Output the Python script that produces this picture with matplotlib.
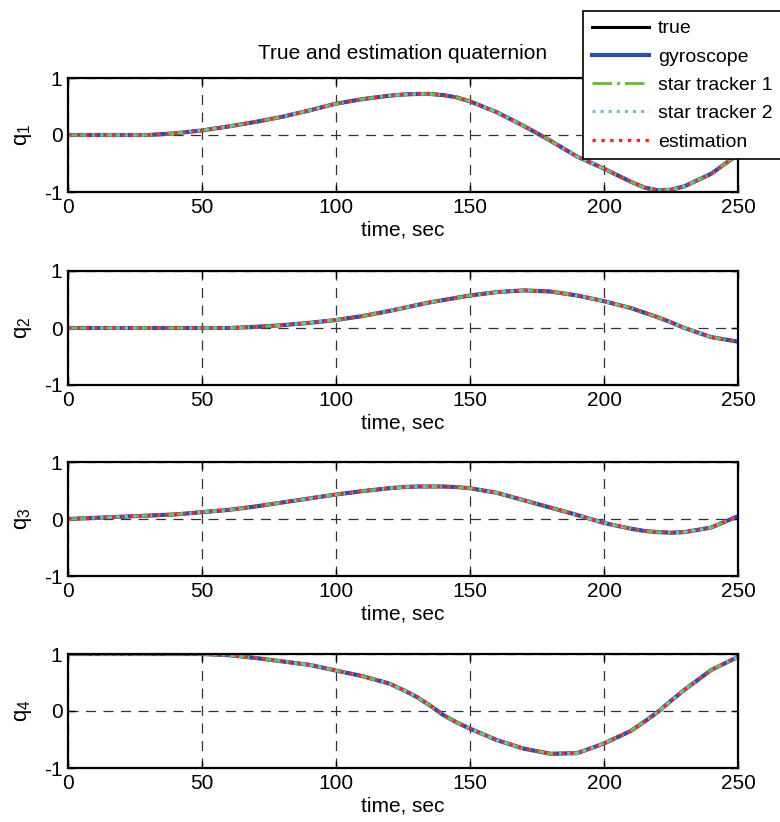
import matplotlib
matplotlib.use("Agg")
import matplotlib.pyplot as plt
import numpy as np

plt.rcParams['font.family'] = ['Liberation Sans', 'DejaVu Sans']
plt.rcParams['mathtext.fontset'] = 'custom'
plt.rcParams['mathtext.rm'] = 'Liberation Sans'
plt.rcParams['axes.unicode_minus'] = False

# time axis (sec) and quaternion components
t = [0, 10, 20, 30, 40, 50, 60, 70, 80, 90, 100, 110, 120, 125, 130, 135, 140, 145,
     150, 160, 170, 180, 190, 200, 210, 215, 220, 225, 230, 240, 250]

q1 = [0, 0, 0, 0, 0.03, 0.08, 0.15, 0.23, 0.32, 0.43, 0.55, 0.63, 0.69, 0.71, 0.72, 0.72, 0.70, 0.66,
      0.59, 0.40, 0.16, -0.10, -0.38, -0.59, -0.82, -0.92, -0.97, -0.96, -0.90, -0.68, -0.34]
q2 = [0, 0, 0, 0, 0, 0, 0, 0.02, 0.05, 0.09, 0.14, 0.21, 0.30, 0.35, 0.40, 0.45, 0.49, 0.53,
      0.57, 0.63, 0.66, 0.64, 0.57, 0.47, 0.35, 0.27, 0.19, 0.10, 0.0, -0.16, -0.24]
q3 = [0, 0.02, 0.04, 0.06, 0.08, 0.12, 0.16, 0.22, 0.29, 0.36, 0.43, 0.49, 0.54, 0.56, 0.57, 0.57, 0.57, 0.56,
      0.54, 0.46, 0.33, 0.20, 0.07, -0.07, -0.17, -0.21, -0.23, -0.24, -0.23, -0.15, 0.05]
q4 = [1, 1, 1, 1, 1, 1, 0.98, 0.93, 0.87, 0.81, 0.71, 0.61, 0.48, 0.37, 0.25, 0.10, -0.07, -0.20,
      -0.31, -0.51, -0.66, -0.75, -0.74, -0.57, -0.35, -0.19, -0.02, 0.18, 0.37, 0.72, 0.95]

quats = [q1, q2, q3, q4]
ylabels = ['q_1', 'q_2', 'q_3', 'q_4']
xticks = [0, 50, 100, 150, 200, 250]
yticks = [-1, 0, 1]

series = [
    ('true', dict(color='black', lw=2.2, ls='-')),
    ('gyroscope', dict(color='#2f4fa6', lw=3.0, ls='-')),
    ('star tracker 1', dict(color='#6cbf45', lw=2.2, ls='-.')),
    ('star tracker 2', dict(color='#5bc6d8', lw=2.2, ls=':')),
    ('estimation', dict(color='#ff2222', lw=2.4, ls=':')),
]

W, H = 780, 822
fig = plt.figure(figsize=(W / 100, H / 100), dpi=100)

tops = [78, 271, 462, 654]
ax_h = 114
fs = 15

axes = []
for i, (q, lab) in enumerate(zip(quats, ylabels)):
    ax = fig.add_axes([68 / W, 1 - (tops[i] + ax_h) / H, 670 / W, ax_h / H])
    for name, st in series:
        ax.plot(t, q, label=name, **st)
    ax.set_xlim(0, 250)
    ax.set_ylim(-1, 1)
    ax.set_xticks(xticks)
    ax.set_yticks(yticks)
    ax.grid(True, color='#333333', lw=0.9, ls=(0, (8, 6)))
    ax.tick_params(direction='in', length=5, width=1, top=True, right=True,
                   labelsize=fs, pad=4)
    for sp in ax.spines.values():
        sp.set_linewidth(1.6)
    ax.set_xlabel('time, sec', fontsize=fs, labelpad=3)
    ax.set_ylabel('$\\mathregular{%s}$' % lab, fontsize=fs + 1, labelpad=7)
    axes.append(ax)

axes[0].set_title('True and estimation quaternion', fontsize=fs, pad=14)

handles, labels = axes[0].get_legend_handles_labels()
leg = fig.legend(handles, labels, loc='upper left',
                 bbox_to_anchor=(583 / W, 1 - 11 / H), bbox_transform=fig.transFigure,
                 borderaxespad=0, fontsize=14, handlelength=2.95, handletextpad=0.45,
                 labelspacing=0.55, borderpad=0.45, fancybox=False,
                 framealpha=1, edgecolor='black')
leg.get_frame().set_linewidth(1.2)

fig.savefig('out.png', dpi=100)
